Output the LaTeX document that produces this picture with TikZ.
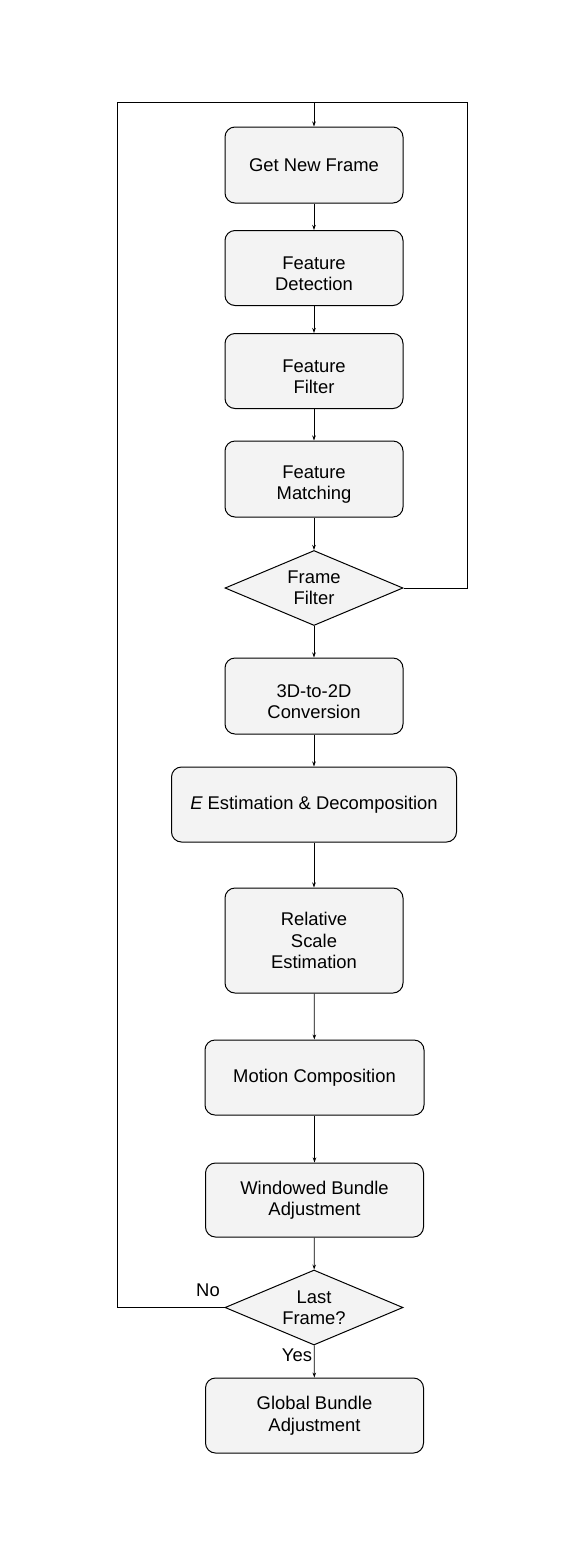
\documentclass[tikz,border=0pt]{standalone}
\usepackage{fontspec}
\setmainfont{Liberation Sans}
\usepackage{tikz}
\usetikzlibrary{arrows.meta,positioning,shapes.geometric}
\definecolor{boxgray}{HTML}{F3F3F3}
\newcommand{\lowstrut}{\rule{0pt}{24.2pt}}
\tikzset{
  block/.style={draw, line width=1pt, fill=boxgray, rounded corners=10pt, align=center, inner sep=0pt},
  decide/.style={draw, line width=1pt, fill=boxgray, diamond, aspect=2.37, minimum width=178pt, minimum height=75pt, align=center, inner sep=1pt},
  flow/.style={line width=0.8pt, -{Stealth[length=5pt,width=3.5pt]}},
  loopline/.style={line width=0.8pt}
}

\begin{document}
\begin{tikzpicture}[x=1pt,y=-1pt,font=\fontsize{18.4}{21.5}\selectfont]
  \useasboundingbox (0,0) rectangle (584,1556);
  \node[block, minimum width=178pt, minimum height=76pt] (get) at (314,165) {Get New Frame};
  \node[block, minimum width=178pt, minimum height=75pt] (detect) at (314,268) {\lowstrut Feature\\Detection};
  \node[block, minimum width=178pt, minimum height=75pt] (filt) at (314,371) {\lowstrut Feature\\Filter};
  \node[block, minimum width=178pt, minimum height=76pt] (match) at (314,479) {\lowstrut Feature\\Matching};
  \node[decide] (frame) at (314,588) {Frame\\Filter};
  \node[block, minimum width=178pt, minimum height=76pt] (conv) at (314,696) {\lowstrut 3D-to-2D\\Conversion};
  \node[block, minimum width=285pt, minimum height=75pt] (est) at (314,804.5) {{\itshape E} Estimation \& Decomposition};
  \node[block, minimum width=178pt, minimum height=105pt] (scale) at (314,940.5) {Relative\\Scale\\Estimation};
  \node[block, minimum width=219pt, minimum height=75pt] (motion) at (314.5,1077.5) {Motion Composition};
  \node[block, minimum width=218pt, minimum height=74pt] (window) at (314.5,1200) {Windowed Bundle\\Adjustment};
  \node[decide] (last) at (314,1307.5) {Last\\Frame?};
  \node[block, minimum width=218pt, minimum height=75pt] (global) at (314.5,1415.5) {Global Bundle\\Adjustment};

  % labels of the last decision
  \node (no) at (208,1290) {No};
  \node (yes) at (297,1355) {Yes};

  % loop back to the top
  \coordinate (tm) at (314,102);
  \coordinate (tr) at (467,102);
  \coordinate (tl) at (117,102);
  \draw[loopline] (frame.east) -| (tr) -- (tm);
  \draw[loopline] (last.west) -| (tl) -- (tm);
  \draw[flow] (tm) -- (get);

  \draw[flow] (get) -- (detect);
  \draw[flow] (detect) -- (filt);
  \draw[flow] (filt) -- (match);
  \draw[flow] (match) -- (frame);
  \draw[flow] (frame) -- (conv);
  \draw[flow] (conv) -- (est);
  \draw[flow] (est) -- (scale);
  \draw[flow] (scale) -- (motion);
  \draw[flow] (motion) -- (window);
  \draw[flow] (window) -- (last);
  \draw[flow] (last) -- (global);
\end{tikzpicture}
\end{document}
